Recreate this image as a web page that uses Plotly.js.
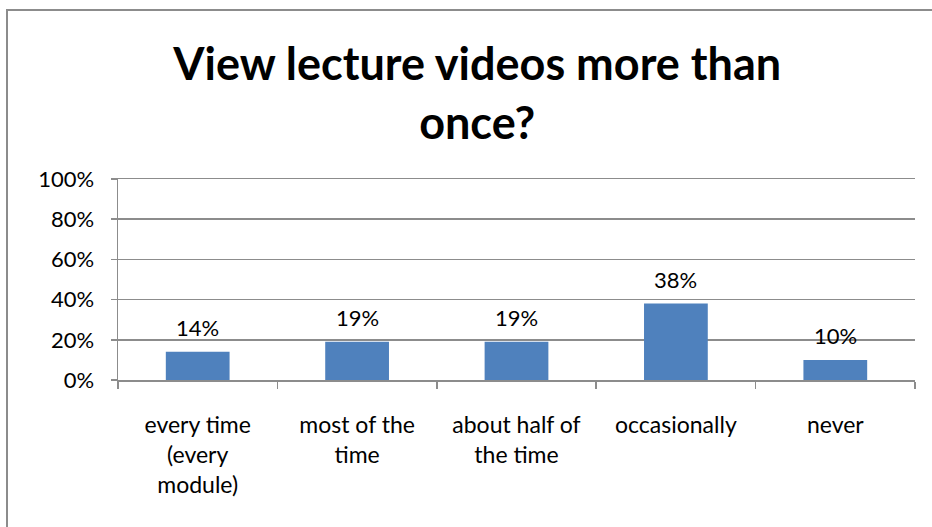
<!DOCTYPE html>
<html>
<head>
<meta charset="utf-8">
<script src="https://cdn.plot.ly/plotly-3.0.1.min.js"></script>
<style>
html,body{margin:0;padding:0;background:#fff;}
#wrap{position:relative;width:932px;height:527px;overflow:hidden;}
#chart{position:absolute;left:0;top:0;width:932px;height:527px;}
#frame{position:absolute;left:6px;top:9px;width:1000px;height:1000px;border-left:2px solid #8c8c8c;border-top:2px solid #8c8c8c;pointer-events:none;}
</style>
</head>
<body>
<div id="wrap"><div id="chart"></div><div id="frame"></div></div>
<script>
const categories = ["every time<br>(every<br>module)", "most of the<br>time", "about half of<br>the time", "occasionally", "never"];
const values = [14, 19, 19, 38, 10];
const valueLabels = values.map(v => v + "%");
const yTickVals = [0, 20, 40, 60, 80, 100];
const yTickText = yTickVals.map(v => v + "%");
const titleText = "View lecture videos more than<br>once?";

const FONT = "Lato, 'Open Sans', sans-serif";

const labelAnnotations = categories.map((c, i) => ({
  x: c, y: values[i], xref: "x", yref: "y",
  text: valueLabels[i], showarrow: false,
  xanchor: "center", yanchor: "bottom", yshift: 9,
  font: {family: FONT, size: 22, color: "#000"}
}));

Plotly.newPlot("chart", [{
  type: "bar",
  x: categories,
  y: values,
  marker: {color: "#4F81BD", line: {width: 0}},
  hoverinfo: "none"
}], {
  width: 932, height: 527,
  margin: {l: 118, r: 17, t: 179, b: 147},
  paper_bgcolor: "#fff", plot_bgcolor: "#fff",
  bargap: 0.6,
  showlegend: false,
  font: {family: FONT, color: "#000"},
  annotations: labelAnnotations,
  title: {
    text: titleText,
    font: {family: FONT, size: 45, color: "#000", weight: "bold"},
    x: 0.512, xanchor: "center",
    y: 0.848, yanchor: "middle", yref: "container"
  },
  xaxis: {
    type: "category",
    tickson: "boundaries",
    ticks: "outside", ticklen: 7, tickwidth: 1.5, tickcolor: "#8c8c8c",
    showline: true, linecolor: "#8c8c8c", linewidth: 1.5, mirror: true,
    showgrid: false,
    tickfont: {family: FONT, size: 23, color: "#000"},
    ticklabelstandoff: 24,
    fixedrange: true
  },
  yaxis: {
    range: [0, 100],
    tickvals: yTickVals, ticktext: yTickText,
    ticks: "outside", ticklen: 6, tickwidth: 1.5, tickcolor: "#8c8c8c",
    showline: true, linecolor: "#8c8c8c", linewidth: 1.5,
    showgrid: true, gridcolor: "#8c8c8c", gridwidth: 1.5,
    zeroline: false,
    tickfont: {family: FONT, size: 22, color: "#000"},
    ticklabelstandoff: 12,
    fixedrange: true
  }
}, {staticPlot: true});
</script>
</body>
</html>
